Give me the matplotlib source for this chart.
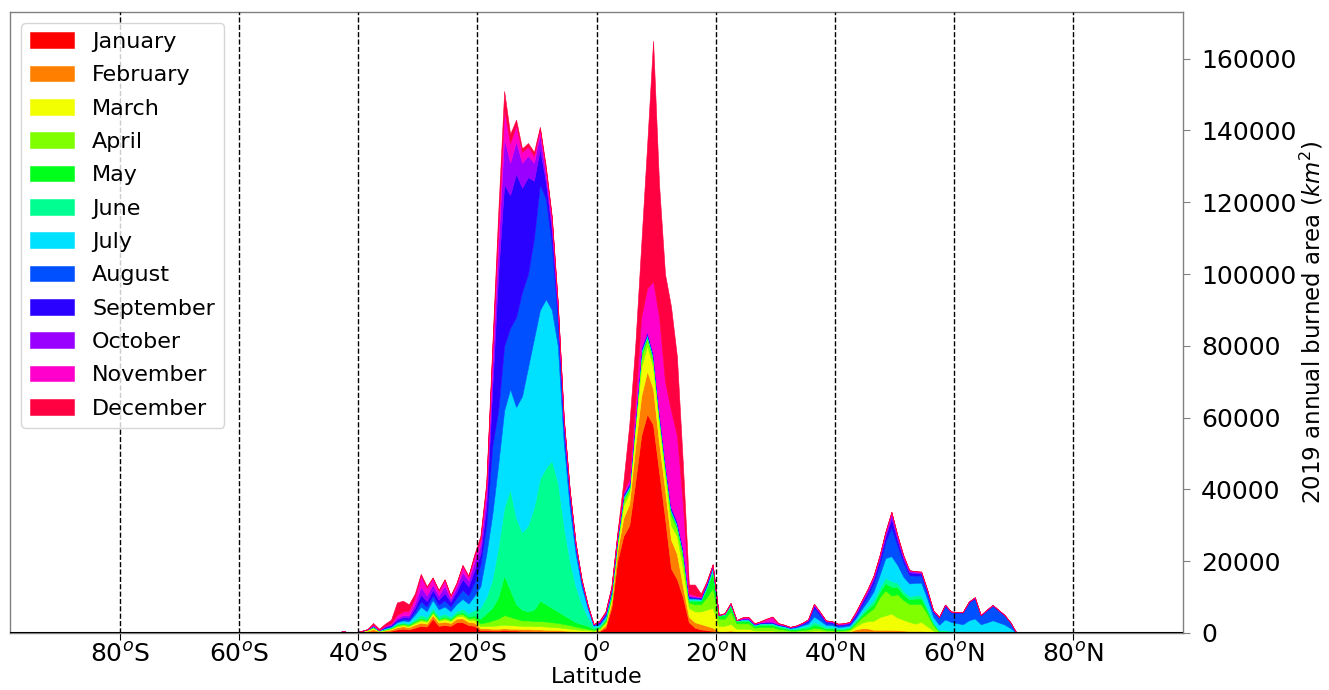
import numpy as np
import matplotlib
matplotlib.use("Agg")
import matplotlib.pyplot as plt

# latitude bin centres (1-degree bins, 44.5S .. 70.5N)
lat = np.arange(-44.5, 71.0, 1.0)

months = ["January", "February", "March", "April", "May", "June", "July",
          "August", "September", "October", "November", "December"]
colors = ["#ff0000", "#ff8000", "#f2ff00", "#80ff00", "#00ff1a", "#00ff90",
          "#00e0ff", "#0050ff", "#2a00ff", "#9a00ff", "#ff00cc", "#ff0040"]

# burned area per latitude bin (km2); rows: 44.5S-20.5S | 19.5S-0.5S | 0.5N-19.5N | 20.5N-70.5N
jan = [0, 0, 100, 0, 50, 200, 300, 600, 300, 400, 600, 1000, 1200, 1000, 1500, 2000, 1800, 4000, 2000, 2200, 2000, 3000, 3000, 2200, 2000,
       800, 800, 700, 700, 800, 700, 700, 600, 600, 500, 500, 400, 400, 300, 300, 200, 200, 200, 200, 200,
       500, 1500, 7000, 20000, 27000, 30000, 42000, 55000, 61000, 58000, 45000, 32000, 18000, 15000, 10000, 3000, 1500, 1000, 800, 600,
       200, 200, 300, 200, 200, 200, 100, 100, 100, 100, 100, 100, 100, 100, 100, 100, 100, 100, 100, 100,
       100, 100, 100, 200, 300, 300, 300, 400, 400, 400, 400, 300, 300, 300, 300, 200, 100, 0, 0, 0,
       0, 0, 0, 0, 0, 0, 0, 0, 0, 0, 0]
feb = [0, 100, 300, 100, 50, 200, 300, 500, 200, 300, 400, 600, 700, 600, 800, 900, 800, 1000, 900, 1000, 800, 1000, 1100, 900, 900,
       500, 500, 500, 500, 500, 500, 500, 500, 500, 500, 500, 500, 500, 500, 400, 400, 300, 200, 200, 150,
       300, 700, 1500, 3000, 5000, 6000, 10000, 11000, 12000, 10000, 8000, 8000, 8000, 7000, 3000, 1500, 1500, 1500, 1200, 900,
       300, 300, 400, 200, 200, 200, 100, 100, 100, 100, 100, 100, 100, 100, 100, 100, 200, 200, 100, 100,
       100, 200, 300, 800, 1000, 1000, 600, 500, 500, 500, 400, 400, 300, 300, 300, 200, 100, 0, 0, 0,
       0, 0, 0, 0, 0, 0, 0, 0, 0, 0, 0]
mar = [0, 0, 100, 0, 0, 100, 200, 300, 100, 200, 200, 300, 300, 300, 400, 500, 500, 500, 500, 600, 500, 600, 700, 600, 700,
       600, 700, 800, 900, 1000, 1000, 900, 900, 900, 900, 900, 900, 800, 800, 700, 600, 500, 500, 400, 250,
       300, 600, 1000, 1500, 3500, 3000, 5000, 8000, 7000, 6000, 5000, 4000, 4000, 5000, 5000, 2500, 3000, 3500, 4500, 5500,
       1500, 1500, 1800, 800, 800, 800, 500, 500, 500, 500, 300, 300, 200, 200, 300, 300, 400, 400, 300, 300,
       200, 200, 300, 800, 1500, 2000, 2500, 3500, 4000, 4500, 3500, 3000, 2500, 2000, 2500, 1500, 500, 100, 100, 100,
       50, 50, 50, 50, 50, 50, 50, 50, 0, 0, 0]
apr = [0, 0, 0, 0, 0, 50, 100, 200, 100, 100, 200, 300, 300, 300, 400, 500, 400, 400, 400, 500, 400, 500, 600, 500, 700,
       800, 1000, 1500, 1900, 2700, 2300, 1900, 1500, 1500, 1400, 1400, 1400, 1300, 1200, 1100, 1000, 800, 600, 400, 300,
       300, 500, 700, 800, 1500, 1000, 1500, 3000, 2000, 2000, 2000, 2000, 3000, 2000, 3000, 1500, 2000, 2000, 3500, 5500,
       2000, 2000, 3500, 1500, 1500, 1500, 800, 1000, 1000, 1000, 700, 500, 300, 300, 400, 500, 800, 600, 400, 400,
       300, 300, 400, 800, 1500, 2300, 3500, 5500, 7000, 5000, 6500, 5500, 5000, 5500, 5000, 3500, 1500, 300, 200, 200,
       100, 100, 100, 100, 100, 100, 100, 100, 50, 0, 0]
may = [0, 0, 0, 0, 0, 0, 50, 100, 0, 100, 100, 200, 200, 200, 300, 300, 300, 300, 300, 300, 300, 300, 400, 400, 600,
       1300, 2500, 3500, 6000, 11000, 7500, 4000, 3000, 2500, 3200, 5700, 4800, 4000, 3200, 2500, 1800, 1200, 1000, 800, 300,
       300, 400, 500, 400, 400, 300, 500, 800, 500, 500, 500, 500, 700, 700, 1000, 500, 1000, 1000, 2500, 4500,
       800, 1000, 1500, 600, 700, 700, 500, 600, 600, 600, 500, 400, 300, 300, 400, 500, 800, 600, 400, 400,
       300, 300, 300, 500, 700, 1000, 1200, 1500, 2000, 2500, 2000, 1500, 1300, 1500, 1500, 1000, 500, 200, 200, 100,
       100, 100, 100, 100, 100, 100, 100, 100, 100, 50, 0]
jun = [0, 0, 0, 0, 0, 0, 50, 100, 0, 100, 100, 200, 300, 300, 500, 900, 700, 800, 700, 800, 600, 700, 1000, 1000, 1500,
       3000, 4500, 8000, 14000, 19000, 28000, 24000, 21500, 24000, 28500, 34000, 38000, 41000, 36000, 25000, 16000, 10000, 5500, 2500, 500,
       300, 400, 400, 300, 300, 300, 300, 500, 300, 300, 300, 300, 300, 300, 400, 300, 300, 200, 500, 1000,
       200, 300, 400, 200, 300, 300, 200, 300, 300, 300, 300, 300, 200, 300, 400, 500, 800, 600, 400, 400,
       300, 300, 300, 400, 600, 800, 1000, 1200, 1500, 1500, 1200, 1000, 900, 900, 900, 700, 400, 200, 300, 200,
       200, 200, 300, 300, 200, 200, 300, 200, 200, 100, 0]
jul = [0, 0, 0, 0, 0, 0, 0, 100, 100, 200, 200, 400, 500, 600, 1200, 2200, 1600, 2200, 1800, 2000, 1500, 2000, 2700, 2600, 4000,
       6000, 12000, 18000, 23000, 27000, 28000, 31000, 38000, 44000, 47000, 47000, 47000, 42000, 38000, 23000, 15000, 9000, 5000, 2500, 400,
       400, 500, 400, 300, 300, 300, 300, 400, 300, 300, 300, 300, 300, 300, 300, 300, 300, 200, 300, 400,
       0, 100, 200, 100, 100, 100, 100, 100, 200, 200, 200, 200, 200, 300, 400, 600, 1500, 1000, 600, 500,
       400, 400, 400, 600, 1000, 1500, 2500, 3500, 5500, 7000, 5000, 4000, 3500, 3500, 3500, 2500, 1500, 1500, 3000, 2500,
       2300, 2000, 3000, 3500, 2000, 2500, 3000, 2500, 2000, 1200, 0]
aug = [0, 0, 0, 0, 0, 0, 0, 100, 0, 100, 200, 300, 400, 500, 900, 1500, 1300, 1300, 1300, 1700, 1300, 1700, 2500, 2300, 3700,
       6000, 8000, 19000, 15000, 18000, 17000, 25000, 29000, 26000, 28000, 35000, 28000, 18000, 7000, 4000, 3000, 2000, 1200, 600, 200,
       400, 500, 400, 300, 300, 300, 300, 300, 300, 300, 300, 300, 300, 300, 300, 300, 200, 200, 300, 300,
       0, 0, 100, 0, 100, 100, 100, 100, 100, 100, 100, 100, 100, 200, 300, 600, 2300, 1500, 600, 500,
       400, 400, 400, 600, 1000, 1500, 2200, 3000, 4500, 8000, 5500, 4000, 2300, 2000, 2000, 1600, 1200, 1800, 3700, 2600,
       2800, 3200, 4800, 5500, 2400, 3300, 4000, 3200, 2500, 1500, 0]
sep = [0, 0, 0, 0, 0, 0, 0, 100, 0, 200, 200, 400, 500, 500, 1000, 1900, 1500, 1500, 1400, 2000, 1300, 1800, 3000, 2500, 3500,
       3000, 5000, 16000, 38000, 45000, 37000, 40000, 29000, 27000, 16000, 10000, 4500, 4000, 2500, 1500, 1000, 500, 400, 200, 100,
       200, 300, 300, 300, 300, 300, 300, 300, 300, 300, 300, 300, 300, 300, 300, 300, 200, 200, 300, 200,
       0, 0, 0, 0, 100, 100, 100, 100, 100, 100, 100, 100, 100, 100, 200, 300, 700, 500, 300, 300,
       200, 200, 300, 500, 700, 900, 1100, 1300, 1500, 2500, 1500, 1000, 800, 700, 600, 500, 300, 300, 300, 200,
       200, 200, 300, 300, 100, 200, 200, 200, 100, 50, 0]
oct_ = [0, 0, 0, 0, 0, 0, 0, 100, 0, 200, 200, 500, 600, 700, 1200, 2200, 1600, 1500, 1200, 2000, 900, 1200, 2000, 1600, 2200,
        2500, 3500, 6000, 8000, 13000, 9000, 9000, 7000, 6000, 5000, 4000, 2000, 2000, 1500, 800, 500, 300, 200, 100, 50,
        200, 200, 300, 300, 300, 300, 300, 300, 300, 300, 300, 300, 300, 300, 300, 200, 200, 200, 200, 100,
        0, 0, 0, 0, 100, 100, 100, 100, 200, 200, 100, 100, 100, 100, 100, 200, 300, 300, 200, 200,
        200, 200, 200, 400, 500, 600, 700, 800, 1000, 1500, 1000, 700, 500, 400, 400, 300, 200, 100, 100, 100,
        50, 50, 100, 100, 50, 50, 50, 50, 50, 0, 0]
nov = [0, 0, 0, 0, 0, 0, 0, 200, 100, 200, 300, 800, 1000, 1200, 1800, 3100, 2200, 1800, 1300, 1700, 700, 1000, 1700, 1200, 1800,
       1500, 2500, 4000, 5000, 8000, 5500, 4500, 3000, 2500, 2000, 1500, 1500, 1500, 800, 500, 300, 100, 100, 50, 30,
       150, 200, 200, 300, 400, 1200, 3500, 8400, 12000, 20000, 26000, 22000, 26800, 23800, 12400, 600, 300, 200, 200, 100,
       0, 100, 100, 0, 200, 300, 100, 200, 700, 1300, 200, 100, 0, 100, 100, 100, 200, 100, 100, 100,
       100, 100, 100, 200, 200, 300, 300, 300, 300, 300, 200, 200, 100, 100, 100, 100, 100, 0, 0, 0,
       0, 0, 0, 0, 0, 0, 0, 0, 0, 0, 0]
dec = [0, 0, 0, 0, 0, 0, 0, 400, 300, 500, 1000, 3500, 3000, 1800, 1000, 500, 300, 200, 200, 200, 200, 200, 300, 200, 400,
       1000, 1000, 2000, 4000, 5000, 2500, 1500, 1000, 1000, 1000, 500, 1000, 500, 200, 200, 200, 100, 100, 50, 20,
       150, 200, 300, 500, 2700, 15000, 16000, 20000, 40000, 67000, 37000, 30000, 29000, 22000, 11000, 2500, 3000, 800, 200, 100,
       0, 100, 100, 0, 100, 100, 0, 100, 100, 100, 100, 0, 0, 0, 0, 0, 100, 0, 0, 0,
       0, 0, 0, 100, 100, 100, 100, 100, 100, 100, 100, 100, 0, 0, 0, 0, 0, 0, 0, 0,
       0, 0, 0, 0, 0, 0, 0, 0, 0, 0, 0]

series = [jan, feb, mar, apr, may, jun, jul, aug, sep, oct_, nov, dec]

xticks = [-80, -60, -40, -20, 0, 20, 40, 60, 80]
xticklabels = ["80$^o$S", "60$^o$S", "40$^o$S", "20$^o$S", "0$^o$",
               "20$^o$N", "40$^o$N", "60$^o$N", "80$^o$N"]
yticks = [0, 20000, 40000, 60000, 80000, 100000, 120000, 140000, 160000]

plt.rcParams["font.family"] = ["DejaVu Sans"]

fig = plt.figure(figsize=(13.29, 6.90), dpi=100)
ax = fig.add_axes([10 / 1329, 57 / 690, 1173 / 1329, 621 / 690])

polys = ax.stackplot(lat, *series, colors=colors, labels=months, linewidth=0.4)
for p, c in zip(polys, colors):
    p.set_edgecolor(c)

for xv in xticks:
    ax.axvline(xv, color="k", linestyle="--", linewidth=1.0, zorder=3)
ax.axhline(0, color="k", linewidth=1.5, zorder=4)

ax.set_xlim(-98.45, 98.45)
ax.set_ylim(0, 173000)
ax.set_xticks(xticks)
ax.set_xticklabels(xticklabels, fontsize=18)
ax.set_yticks(yticks)
ax.set_yticklabels([str(v) for v in yticks], fontsize=18)
ax.yaxis.tick_right()
ax.yaxis.set_label_position("right")
ax.set_xlabel("Latitude", fontsize=16, labelpad=0)
ax.set_ylabel("2019 annual burned area ($km^2$)", fontsize=16.5, labelpad=1)

for s in ax.spines.values():
    s.set_color("0.5")
    s.set_linewidth(1.0)
ax.tick_params(axis="x", length=5, color="k", pad=2)
ax.tick_params(axis="y", length=5, color="0.5", pad=8)

ax.legend(loc="upper left", fontsize=16, framealpha=0.8, labelspacing=0.6)

fig.savefig("out.png", dpi=100)
